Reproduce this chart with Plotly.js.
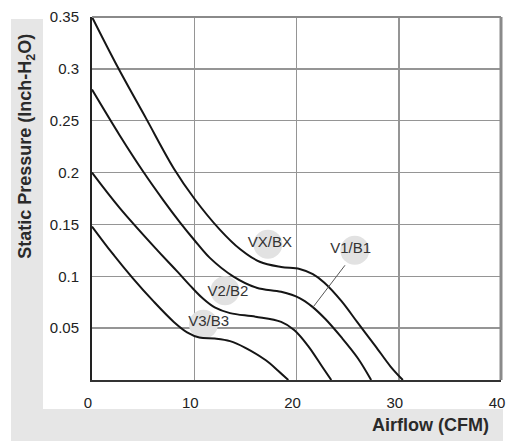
<!DOCTYPE html>
<html>
<head>
<meta charset="utf-8">
<script src="https://cdn.plot.ly/plotly-3.0.1.min.js"></script>
<style>html,body{margin:0;padding:0;background:#fff;}#chart{width:517px;height:448px;}</style>
</head>
<body>
<div id="chart"></div>
<script>
// Fan curves: airflow (CFM) vs static pressure (Inch-H2O)
const vxFlow = [0, 2.5, 5.3, 8.0, 10.0, 12.5, 14.5, 16.4, 18.5, 20.3, 21.6, 22.7, 24.4, 26.0, 27.7, 29.2, 30.4];
const vxPres = [0.35, 0.302, 0.252, 0.204, 0.175, 0.145, 0.126, 0.114, 0.109, 0.107, 0.102, 0.094, 0.076, 0.055, 0.033, 0.013, 0.0];

const v1Flow = [0, 2.7, 5.0, 7.0, 8.6, 10.0, 11.5, 13.8, 16.1, 18.5, 20.3, 21.5, 22.8, 24.4, 26.0, 27.3];
const v1Pres = [0.28, 0.236, 0.201, 0.173, 0.152, 0.135, 0.118, 0.100, 0.089, 0.085, 0.079, 0.071, 0.059, 0.041, 0.021, 0.0];

const v2Flow = [0, 2.7, 6.4, 8.4, 9.6, 10.8, 12.0, 13.5, 16.0, 18.5, 19.8, 21.2, 22.5, 23.4];
const v2Pres = [0.20, 0.166, 0.125, 0.104, 0.091, 0.079, 0.070, 0.0645, 0.061, 0.056, 0.048, 0.032, 0.013, 0.0];

const v3Flow = [0, 2.0, 4.0, 6.0, 8.0, 9.3, 10.5, 12.0, 13.5, 15.0, 17.0, 18.2, 19.2];
const v3Pres = [0.148, 0.122, 0.098, 0.076, 0.056, 0.046, 0.041, 0.040, 0.0375, 0.031, 0.019, 0.009, 0.0];

// Curve labels
const labelText = ['VX/BX', 'V1/B1', 'V2/B2', 'V3/B3'];
const labelX = [17.4, 25.3, 13.3, 11.4];
const labelY = [0.132, 0.126, 0.0846, 0.0558];
const bubbleX = [17.2, 25.7, 13.0, 10.9];
const bubbleY = [0.131, 0.125, 0.086, 0.0538];

// V1/B1 leader line
const leaderX = [24.74, 21.6];
const leaderY = [0.1106, 0.070];

// Axis ticks
const xTicks = [0, 10, 20, 30, 40];
const yTicks = [0.05, 0.1, 0.15, 0.2, 0.25, 0.3, 0.35];
const yTickText = ['0.05', '0.1', '0.15', '0.2', '0.25', '0.3', '0.35'];

const FONT = 'Liberation Sans, Arial, Helvetica, sans-serif';
const curveLine = {color: '#151515', width: 2, shape: 'spline', smoothing: 1.0};

const traces = [
  {x: bubbleX, y: bubbleY, mode: 'markers', type: 'scatter', hoverinfo: 'skip',
   marker: {size: 29, color: '#e2e2e2', line: {width: 0}}},
  {x: vxFlow, y: vxPres, mode: 'lines', type: 'scatter', line: curveLine},
  {x: v1Flow, y: v1Pres, mode: 'lines', type: 'scatter', line: curveLine},
  {x: v2Flow, y: v2Pres, mode: 'lines', type: 'scatter', line: curveLine},
  {x: v3Flow, y: v3Pres, mode: 'lines', type: 'scatter', line: curveLine},
  {x: leaderX, y: leaderY, mode: 'lines', type: 'scatter', line: {color: '#555', width: 1}},
  {x: labelX, y: labelY, mode: 'text', type: 'scatter', text: labelText,
   textposition: 'middle center', textfont: {family: FONT, size: 15, color: '#333'}}
];

const layout = {
  width: 517, height: 448,
  margin: {l: 92, r: 16, t: 17, b: 68, pad: 0},
  paper_bgcolor: '#ffffff', plot_bgcolor: '#ffffff',
  showlegend: false,
  font: {family: FONT, size: 15, color: '#222'},
  xaxis: {
    range: [0, 40], tickvals: xTicks, ticktext: xTicks.map(String),
    showgrid: true, gridcolor: '#959595', gridwidth: 1.5, zeroline: false,
    showline: true, linecolor: '#333', linewidth: 2,
    ticks: '', ticklabelstandoff: 8, ticklabelshift: -4,
    tickfont: {family: FONT, size: 15, color: '#222'}, fixedrange: true
  },
  yaxis: {
    range: [0, 0.35], tickvals: yTicks, ticktext: yTickText,
    showgrid: true, gridcolor: '#959595', gridwidth: 1.5, zeroline: false,
    showline: true, linecolor: '#222', linewidth: 2,
    ticks: '', ticklabelstandoff: 8,
    tickfont: {family: FONT, size: 15, color: '#222'}, fixedrange: true
  },
  shapes: [
    {type: 'rect', xref: 'paper', yref: 'paper', x0: -0.198, x1: -0.1198, y0: -0.168, y1: 0.9945,
     fillcolor: '#e6e6e6', line: {width: 0}, layer: 'below'},
    {type: 'rect', xref: 'paper', yref: 'paper', x0: -0.198, x1: 1.0049, y0: -0.168, y1: -0.0799,
     fillcolor: '#e6e6e6', line: {width: 0}, layer: 'below'},
    {type: 'line', xref: 'paper', yref: 'paper', x0: 0, x1: 1, y0: 1, y1: 1,
     line: {color: '#8a8a8a', width: 2}},
    {type: 'line', xref: 'paper', yref: 'paper', x0: 1, x1: 1, y0: 0, y1: 1,
     line: {color: '#8a8a8a', width: 3}}
  ],
  annotations: [
    {text: 'Airflow (CFM)', xref: 'paper', yref: 'paper', x: 0.9756, y: -0.124,
     xanchor: 'right', yanchor: 'middle', showarrow: false,
     font: {family: FONT, size: 18, color: '#2a2a2a', weight: 'bold'}},
    {text: 'Static Pressure (Inch-H<sub>2</sub>O)', xref: 'paper', yref: 'paper', x: -0.159, y: 0.645,
     xanchor: 'center', yanchor: 'middle', textangle: -90, showarrow: false,
     font: {family: FONT, size: 18, color: '#2a2a2a', weight: 'bold'}}
  ]
};

Plotly.newPlot('chart', traces, layout, {displayModeBar: false, staticPlot: true});
</script>
</body>
</html>
